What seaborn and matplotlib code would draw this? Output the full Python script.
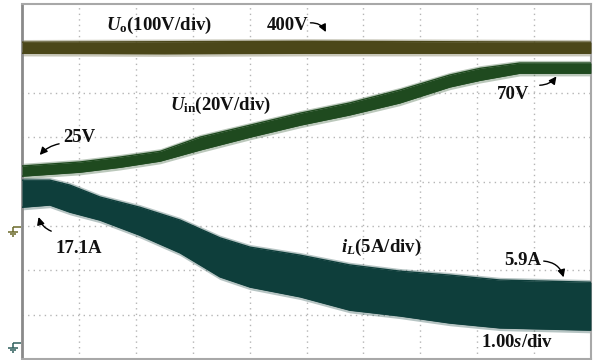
import numpy as np
import pandas as pd
import matplotlib
matplotlib.use('Agg')
import matplotlib.pyplot as plt
import seaborn as sns

# Screen readout in divisions (x: 1.00 s/div, y: 8 div full scale, 0 = bottom)
uo_t = [0, 2.5, 5, 7.5, 10]
uo_upper = [7.14, 7.15, 7.16, 7.15, 7.14]
uo_lower = [6.89, 6.88, 6.89, 6.89, 6.89]

uin_t = [0, 1.02, 1.72, 2.43, 3.13, 4.01, 4.89, 5.76, 6.64, 7.52, 8.05, 8.75, 9.28, 10]
uin_upper = [4.35, 4.44, 4.55, 4.68, 5.00, 5.27, 5.54, 5.77, 6.06, 6.40, 6.55, 6.67, 6.67, 6.67]
uin_lower = [4.12, 4.21, 4.32, 4.46, 4.71, 5.00, 5.27, 5.50, 5.77, 6.13, 6.28, 6.44, 6.44, 6.44]

il_t = [0, 0.49, 0.84, 1.37, 2.07, 2.78, 3.48, 4.01, 4.89, 5.76, 6.64, 7.52, 8.40, 10]
il_upper = [4.03, 4.03, 3.92, 3.65, 3.42, 3.13, 2.73, 2.52, 2.34, 2.12, 1.98, 1.89, 1.78, 1.73]
il_lower = [3.42, 3.47, 3.31, 3.13, 2.79, 2.39, 1.85, 1.62, 1.40, 1.10, 0.97, 0.81, 0.70, 0.65]

traces = {
    'Uo': (uo_t, uo_upper, uo_lower, '#4b4719'),
    'Uin': (uin_t, uin_upper, uin_lower, '#1f4a1f'),
    'iL': (il_t, il_upper, il_lower, '#0e3e3b'),
}

sns.set_style('white')
plt.rcParams['font.family'] = ['Liberation Serif', 'DejaVu Serif']
plt.rcParams['mathtext.fontset'] = 'custom'
plt.rcParams['mathtext.rm'] = 'Liberation Serif:bold'
plt.rcParams['mathtext.it'] = 'Liberation Serif:italic:bold'
plt.rcParams['mathtext.bf'] = 'Liberation Serif:bold'

fig = plt.figure(figsize=(5.93, 3.60), dpi=100)
ax = fig.add_axes([22 / 593, 1 / 360, 569 / 593, 355 / 360])

# traces: envelope edges via seaborn, band filled between them, light fuzz around
for name, (t, up, lo, col) in traces.items():
    df = pd.DataFrame({'t': t + t, 'v': up + lo,
                       'edge': ['up'] * len(t) + ['lo'] * len(t)})
    fuzz = 0.06
    ax.fill_between(t, np.array(lo) - fuzz, np.array(up) + fuzz,
                    color=col, alpha=0.3, lw=0, zorder=2)
    sns.lineplot(data=df, x='t', y='v', units='edge', estimator=None,
                 color=col, lw=1.0, ax=ax, zorder=3)
    ax.fill_between(t, lo, up, color=col, lw=0, zorder=3)

ax.set_xlim(0, 10)
ax.set_ylim(0, 8)
ax.set_xticks(range(1, 10))
ax.set_yticks(range(1, 8))
ax.tick_params(length=0, labelbottom=False, labelleft=False)
ax.set_xlabel('')
ax.set_ylabel('')
ax.grid(True, color='#b5b5b5', linestyle=(0, (1, 3)), lw=1)
for s in ax.spines.values():
    s.set_color('#a8a8a8')
    s.set_linewidth(1.5)
ax.spines['left'].set_color('#8a8a8a')
ax.spines['left'].set_linewidth(2)

# ground markers at the left edge
def ground(y0, col):
    px, py = 1 / 56.9, 1 / 44.4
    kw = dict(color=col, lw=1.1, clip_on=False, solid_capstyle='butt')
    ax.plot([-9 * px, -1 * px], [y0, y0], **kw)
    ax.plot([-9 * px, -9 * px], [y0, y0 - 5 * py], **kw)
    ax.plot([-14 * px, -4 * px], [y0 - 5 * py] * 2, **kw)
    ax.plot([-12 * px, -6 * px], [y0 - 7 * py] * 2, **kw)
    ax.plot([-10 * px, -8 * px], [y0 - 9 * py] * 2, **kw)

ground(2.97, '#6b6a2a')
ground(0.36, '#2f5f5c')

txt = dict(fontsize=13.5, fontweight='bold', color='#111111', va='center', zorder=5)
ax.text(1.48, 7.52, r'$U_\mathrm{o}$(100V/div)', **txt)
ax.text(4.31, 7.52, '400V', **txt)
ax.text(2.60, 5.71, r'$U_\mathrm{in}$(20V/div)', **txt)
ax.text(0.72, 5.00, '25V', **txt)
ax.text(8.35, 5.97, '70V', **txt)
ax.text(0.58, 2.48, '17.1A', **txt)
ax.text(5.61, 2.52, r'$i_L$(5A/div)', **txt)
ax.text(8.47, 2.21, '5.9A', **txt)
ax.text(8.07, 0.38, r'1.00$s$/div', **txt)

arr = dict(arrowstyle='-|>', color='black', lw=1, mutation_scale=11)
ax.annotate('', xy=(5.36, 7.31), xytext=(5.02, 7.57),
            arrowprops=dict(connectionstyle='arc3,rad=-0.4', **arr))
ax.annotate('', xy=(0.28, 4.55), xytext=(0.70, 4.86),
            arrowprops=dict(connectionstyle='arc3,rad=0.2', **arr))
ax.annotate('', xy=(9.42, 6.42), xytext=(9.05, 6.17),
            arrowprops=dict(connectionstyle='arc3,rad=0.3', **arr))
ax.annotate('', xy=(0.28, 3.26), xytext=(0.56, 2.86),
            arrowprops=dict(connectionstyle='arc3,rad=-0.3', **arr))
ax.annotate('', xy=(9.53, 1.78), xytext=(9.12, 2.21),
            arrowprops=dict(connectionstyle='arc3,rad=-0.4', **arr))

fig.savefig('out.png', dpi=100)
